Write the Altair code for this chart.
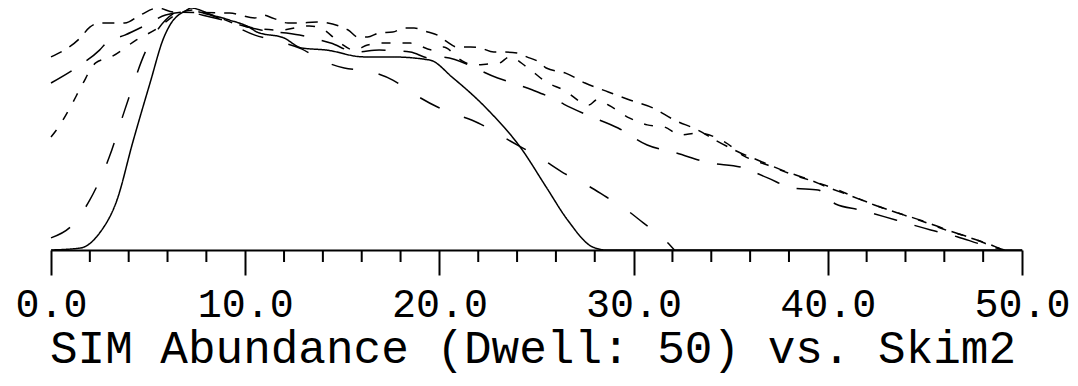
import altair as alt
import pandas as pd

# ---- data (x: 0..50, y: relative abundance 0..100) ----
solid_x = [0, 1.5, 2.5, 3.4, 4.2, 5.1, 5.8, 6.1, 7.0, 7.2, 8.3, 9.2, 10.2, 10.6, 12.0, 12.9,
           14.2, 16.1, 17.5, 19.5, 20.7, 22.5, 24.2, 25.5, 26.6, 27.9, 28.6, 50]
solid_y = [0, 0.8, 7.0, 20.7, 44.2, 69.0, 87.6, 92.6, 99.2, 100, 97.1, 95.0, 92.1, 90.1, 87.6, 83.5,
           82.6, 79.8, 79.8, 78.5, 71.1, 57.9, 42.1, 26.0, 12.4, 1.2, 0, 0]

long_x = [0, 1.1, 2.0, 3.0, 3.8, 4.9, 5.9, 6.9, 8.2, 10.5, 11.6, 12.9, 13.9, 15.1, 16.3, 17.6,
          18.6, 19.9, 20.8, 22.0, 23.1, 24.3, 25.2, 26.4, 27.4, 28.6, 29.5, 30.5, 31.5, 32.1]
long_y = [5.0, 10.3, 20.7, 38.4, 57.9, 82.6, 95.0, 99.2, 97.1, 88.8, 86.4, 83.1, 78.5, 75.2, 74.0, 70.2,
          64.9, 59.1, 56.2, 52.5, 47.5, 42.1, 38.0, 31.8, 27.7, 21.9, 17.4, 11.2, 5.0, 0]

top_x = [0, 1.5, 2.0, 2.5, 3.3, 3.8, 4.6, 5.5, 6.3, 9.2, 10.5, 10.9, 11.4, 12.2, 12.7, 13.7, 15.3,
         15.8, 16.3, 16.9, 17.6, 18.2, 18.7, 19.4, 19.9, 20.4, 20.9, 21.6, 22.1, 22.8, 23.3, 24.0,
         24.5, 25.2, 25.5, 26.5, 27.5, 28.7, 29.8, 31.0, 32.1, 33.3, 34.3, 35.4, 36.5, 37.9, 38.8,
         40.1, 41.2, 42.4, 43.6, 44.9, 46.0, 47.2, 48.4, 48.9]
top_y = [79.8, 87.6, 92.1, 93.8, 93.8, 93.8, 97.1, 100, 98.3, 97.9, 95.9, 97.1, 95.9, 93.8, 93.8, 94.2, 90.9,
         88.0, 88.0, 89.7, 90.1, 91.7, 91.7, 90.1, 88.8, 86.0, 83.9, 83.9, 83.5, 81.8, 81.8, 81.4,
         79.8, 77.3, 75.2, 73.1, 69.0, 65.3, 62.0, 58.7, 53.7, 49.6, 45.0, 40.5, 36.8, 32.2, 29.8,
         25.6, 22.3, 18.6, 15.3, 12.0, 8.7, 5.4, 2.1, 0.4]

mid_x = [0, 0.35, 1.0, 1.6, 2.3, 3.1, 4.4, 5.5, 6.4, 7.4, 8.3, 9.7, 11.8, 13.3, 13.9, 14.9, 15.6,
         16.3, 16.8, 18.5, 19.7, 20.2, 21.1, 21.8, 22.5, 23.1, 23.6, 24.5, 25.5, 26.4, 27.7, 28.1,
         28.7, 29.8, 30.7, 31.6, 32.4, 33.3, 34.7, 35.7, 36.9, 38.1, 39.2, 40.4, 41.5, 42.7, 43.9,
         45.1, 46.2, 47.4, 48.6, 49.1]
mid_y = [46.7, 50.4, 59.1, 68.2, 77.3, 79.8, 86.8, 91.7, 97.1, 99.2, 97.1, 93.0, 90.9, 92.6, 91.7, 85.5, 82.6,
         84.7, 85.5, 85.5, 82.6, 83.9, 78.5, 76.4, 76.9, 77.3, 79.8, 75.6, 69.4, 66.1, 59.9, 62.0,
         59.9, 54.5, 51.7, 50.8, 47.5, 48.3, 44.6, 38.8, 35.1, 31.4, 28.5, 25.2, 21.5, 17.8, 14.5,
         11.2, 7.9, 5.0, 1.2, 0]

low_x = [0, 1.5, 2.5, 2.9, 3.8, 4.9, 5.9, 6.9, 8.2, 10.8, 12.8, 14.4, 15.7, 16.9, 18.5, 19.5, 20.0,
         23.0, 24.8, 26.0, 26.4, 27.6, 29.2, 30.7, 32.2, 33.9, 35.5, 36.9, 38.2, 39.5, 40.4, 41.7,
         43.5, 45.3, 46.7, 48.0, 48.9]
low_y = [69.0, 76.4, 82.6, 86.0, 88.8, 93.0, 97.1, 98.3, 96.3, 90.9, 88.8, 85.5, 81.8, 82.6, 81.8, 79.3, 79.8,
         71.1, 66.1, 62.0, 60.3, 55.8, 50.4, 43.4, 40.1, 36.0, 34.3, 29.8, 25.6, 24.8, 19.0, 16.5,
         12.4, 8.3, 5.4, 2.1, 0.4]

series_names = ["solid", "long", "top", "mid", "low"]
series_dash = [[1, 0], [22, 26], [12, 9], [9, 12], [24, 18]]

major_ticks = [0, 10, 20, 30, 40, 50]
minor_ticks = [2, 4, 6, 8, 12, 14, 16, 18, 22, 24, 26, 28, 32, 34, 36, 38, 42, 44, 46, 48]
title_text = "SIM Abundance (Dwell: 50) vs. Skim2"

FONT = "Liberation Mono"
W, H = 971, 242

rows = []
for name, xs, ys in [("solid", solid_x, solid_y), ("long", long_x, long_y),
                     ("top", top_x, top_y), ("mid", mid_x, mid_y), ("low", low_x, low_y)]:
    for i, (xv, yv) in enumerate(zip(xs, ys)):
        rows.append({"series": name, "x": xv, "y": yv, "order": i})
df = pd.DataFrame(rows)

xscale = alt.Scale(domain=[0, 50], nice=False, zero=False)
yscale = alt.Scale(domain=[0, 100], nice=False)

lines = alt.Chart(df).mark_line(color="black", strokeWidth=1.5, interpolate="monotone").encode(
    x=alt.X("x:Q", scale=xscale,
            axis=alt.Axis(values=major_ticks, format=".1f", tickSize=25, tickWidth=2,
                          tickColor="black", domainColor="black", domainWidth=2,
                          labelFont=FONT, labelFontSize=40, labelColor="black",
                          labelBaseline="alphabetic", labelPadding=41, labelAlign="center",
                          labelFlush=False, labelOverlap=False, labelBound=False, grid=False,
                          title=title_text, titleFont=FONT, titleFontSize=46,
                          titleFontWeight="normal", titleColor="black",
                          titleBaseline="alphabetic", titleAlign="center",
                          titleX=W / 2 - 4, titleY=112)),
    y=alt.Y("y:Q", scale=yscale, axis=None),
    detail="series:N",
    order="order:Q",
    strokeDash=alt.StrokeDash("series:N", scale=alt.Scale(domain=series_names, range=series_dash),
                              legend=None),
)

minor = alt.Chart(pd.DataFrame({"t": minor_ticks})).mark_rule(color="black", strokeWidth=2).encode(
    x=alt.X("t:Q", scale=xscale),
    y=alt.value(H),
    y2=alt.value(H + 12),
)

chart = alt.layer(lines, minor).properties(
    width=W, height=H,
    padding={"left": 43, "top": 0, "right": 48, "bottom": 128},
    autosize=alt.AutoSizeParams(type="none"),
    background="white",
).configure_view(strokeWidth=0)

chart.save("out.html", embed_options={"renderer": "svg", "actions": False})
